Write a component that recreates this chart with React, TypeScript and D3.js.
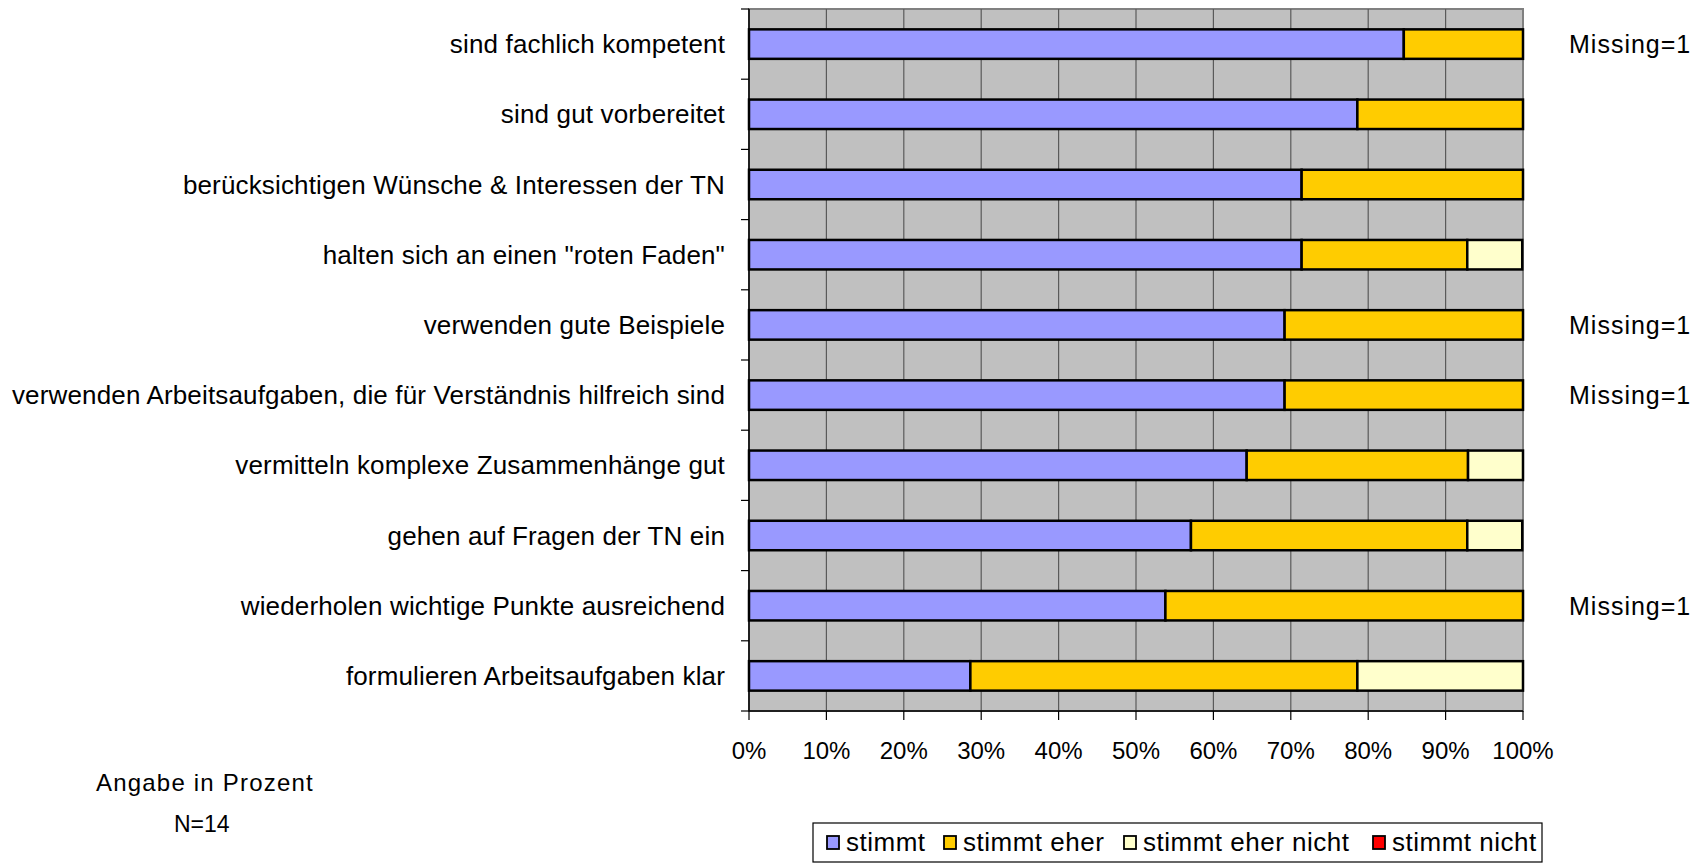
import React, { useEffect, useRef } from 'react';
import * as d3 from 'd3';

// Items (top to bottom)
const categories = [
  'sind fachlich kompetent',
  'sind gut vorbereitet',
  'berücksichtigen Wünsche & Interessen der TN',
  'halten sich an einen "roten Faden"',
  'verwenden gute Beispiele',
  'verwenden Arbeitsaufgaben, die für Verständnis hilfreich sind',
  'vermitteln komplexe Zusammenhänge gut',
  'gehen auf Fragen der TN ein',
  'wiederholen wichtige Punkte ausreichend',
  'formulieren Arbeitsaufgaben klar',
];

// Percent per answer
const stimmt = [84.6, 78.6, 71.4, 71.4, 69.2, 69.2, 64.3, 57.1, 53.8, 28.6];
const stimmtEher = [15.4, 21.4, 28.6, 21.4, 30.8, 30.8, 28.6, 35.7, 46.2, 50.0];
const stimmtEherNicht = [0, 0, 0, 7.1, 0, 0, 7.1, 7.1, 0, 21.4];
const stimmtNicht = [0, 0, 0, 0, 0, 0, 0, 0, 0, 0];

const missing = [1, 0, 0, 0, 1, 1, 0, 0, 1, 0];

const seriesNames = ['stimmt', 'stimmt eher', 'stimmt eher nicht', 'stimmt nicht'];
const seriesColors = ['#9999FF', '#FFCC00', '#FFFFCC', '#FF0000'];
const xTicks = [0, 10, 20, 30, 40, 50, 60, 70, 80, 90, 100];

const FONT = '"Liberation Sans", Arial, sans-serif';

const App = () => {
  const svgRef = useRef<SVGSVGElement>(null);

  useEffect(() => {
    const svg = d3.select(svgRef.current);
    svg.selectAll('*').remove();

    const left = 749, right = 1523, top = 9, bottom = 711;

    const x = d3.scaleLinear().domain([0, 100]).range([left, right]);
    const y = d3.scaleBand<string>()
      .domain(categories)
      .range([top, bottom])
      .paddingInner(0.58)
      .paddingOuter(0.29);
    const yb = d3.scaleBand<string>().domain(categories).range([top, bottom]);

    // plot area
    svg.append('rect')
      .attr('x', left).attr('y', top)
      .attr('width', right - left).attr('height', bottom - top)
      .attr('fill', '#C0C0C0')
      .attr('stroke', '#808080')
      .attr('stroke-width', 2);

    // gridlines
    svg.append('g')
      .selectAll('line')
      .data(xTicks.slice(1, -1))
      .enter().append('line')
      .attr('x1', d => x(d)).attr('x2', d => x(d))
      .attr('y1', top).attr('y2', bottom)
      .attr('stroke', '#5a5a5a')
      .attr('stroke-width', 1.2);

    // stacked bars
    const rows = categories.map((c, i) => ({
      cat: c,
      vals: [stimmt[i], stimmtEher[i], stimmtEherNicht[i], stimmtNicht[i]],
    }));
    const g = svg.append('g');
    rows.forEach(r => {
      let acc = 0;
      r.vals.forEach((v, k) => {
        if (v > 0) {
          g.append('rect')
            .attr('x', x(acc))
            .attr('y', y(r.cat)!)
            .attr('width', x(acc + v) - x(acc))
            .attr('height', y.bandwidth())
            .attr('fill', seriesColors[k])
            .attr('stroke', '#000')
            .attr('stroke-width', 2.5);
        }
        acc += v;
      });
    });

    // left axis
    svg.append('line')
      .attr('x1', left).attr('x2', left)
      .attr('y1', top).attr('y2', bottom)
      .attr('stroke', '#000').attr('stroke-width', 1.5);
    const bounds = categories.map(c => yb(c)!).concat([bottom]);
    svg.append('g').selectAll('line')
      .data(bounds).enter().append('line')
      .attr('x1', left - 8).attr('x2', left)
      .attr('y1', d => d).attr('y2', d => d)
      .attr('stroke', '#000').attr('stroke-width', 1.2);

    // bottom axis
    svg.append('line')
      .attr('x1', left).attr('x2', right)
      .attr('y1', bottom).attr('y2', bottom)
      .attr('stroke', '#000').attr('stroke-width', 1.5);
    svg.append('g').selectAll('line')
      .data(xTicks).enter().append('line')
      .attr('x1', d => x(d)).attr('x2', d => x(d))
      .attr('y1', bottom).attr('y2', bottom + 9)
      .attr('stroke', '#000').attr('stroke-width', 1.2);
    svg.append('g').selectAll('text')
      .data(xTicks).enter().append('text')
      .attr('x', d => x(d))
      .attr('y', 750)
      .attr('text-anchor', 'middle')
      .attr('dominant-baseline', 'central')
      .attr('font-family', FONT)
      .attr('font-size', 24)
      .attr('fill', '#000')
      .text(d => `${d}%`);

    // category labels
    svg.append('g').selectAll('text')
      .data(categories).enter().append('text')
      .attr('x', 725)
      .attr('y', d => yb(d)! + yb.bandwidth() / 2)
      .attr('text-anchor', 'end')
      .attr('dominant-baseline', 'central')
      .attr('font-family', FONT)
      .attr('font-size', 26)
      .attr('letter-spacing', 0.15)
      .attr('fill', '#000')
      .text(d => d);

    // missing notes
    svg.append('g').selectAll('text')
      .data(categories.filter((c, i) => missing[i] > 0)).enter().append('text')
      .attr('x', 1569)
      .attr('y', d => yb(d)! + yb.bandwidth() / 2)
      .attr('dominant-baseline', 'central')
      .attr('font-family', FONT)
      .attr('font-size', 25)
      .attr('letter-spacing', 1)
      .attr('fill', '#000')
      .text(d => `Missing=${missing[categories.indexOf(d)]}`);

    // notes
    svg.append('text')
      .attr('x', 96).attr('y', 782)
      .attr('dominant-baseline', 'central')
      .attr('font-family', FONT).attr('font-size', 24)
      .attr('letter-spacing', 1.2)
      .text('Angabe in Prozent');
    svg.append('text')
      .attr('x', 174).attr('y', 824)
      .attr('dominant-baseline', 'central')
      .attr('font-family', FONT).attr('font-size', 23)
      .text('N=14');

    // legend
    const lg = svg.append('g');
    lg.append('rect')
      .attr('x', 813).attr('y', 823)
      .attr('width', 729).attr('height', 39)
      .attr('fill', '#fff')
      .attr('stroke', '#000').attr('stroke-width', 1.2);
    const itemX = [827, 944, 1124, 1373];
    seriesNames.forEach((name, k) => {
      lg.append('rect')
        .attr('x', itemX[k]).attr('y', 836)
        .attr('width', 12).attr('height', 13)
        .attr('fill', seriesColors[k])
        .attr('stroke', '#000').attr('stroke-width', 1.8);
      lg.append('text')
        .attr('x', itemX[k] + 19).attr('y', 842)
        .attr('dominant-baseline', 'central')
        .attr('font-family', FONT).attr('font-size', 26)
        .attr('letter-spacing', 0.5)
        .text(name);
    });
  }, []);

  return (
    <div style={{ position: 'absolute', left: 0, top: 0, width: 1704, height: 864, background: '#fff' }}>
      <svg ref={svgRef} width={1704} height={864} style={{ display: 'block' }} />
    </div>
  );
};

export default App;
